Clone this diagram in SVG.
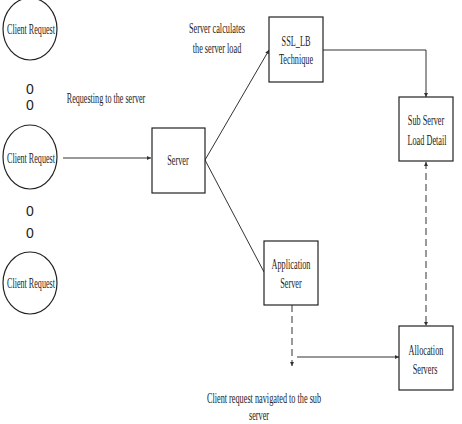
<svg xmlns="http://www.w3.org/2000/svg" width="462" height="424" viewBox="0 0 462 424">
<style>
.n{fill:#fff;stroke:#222;stroke-width:1.2}
.t{font-family:"Liberation Serif","Times New Roman",serif;font-size:15px;fill:#222;text-anchor:middle}
.z{font-family:"Liberation Sans",Arial,sans-serif;font-size:14px;fill:#222;text-anchor:middle}
.c{fill:none;stroke:#333;stroke-width:1}
.d{fill:none;stroke:#333;stroke-width:1;stroke-dasharray:7,4}
</style>
<defs>
<marker id="ah" viewBox="0 0 6 6" refX="6" refY="3" markerWidth="4" markerHeight="4" orient="auto-start-reverse" markerUnits="userSpaceOnUse">
<path d="M0,0 L6,3 L0,6 z" fill="#333"/>
</marker>
</defs>
<rect width="462" height="424" fill="#fff"/>
<g id="connectors">
<line class="c" x1="63" y1="158" x2="151" y2="158" marker-end="url(#ah)"/>
<line class="c" x1="205" y1="160" x2="269" y2="50" marker-end="url(#ah)"/>
<line class="c" x1="205" y1="160" x2="264" y2="272"/>
<polyline class="c" points="323,50 426,50 426,97" marker-end="url(#ah)"/>
<line class="d" x1="426" y1="162" x2="426" y2="326" marker-start="url(#ah)" marker-end="url(#ah)"/>
<line class="d" x1="292" y1="305" x2="292" y2="366" marker-end="url(#ah)"/>
<line class="c" x1="297" y1="357" x2="399" y2="357" marker-end="url(#ah)"/>
</g>
<g id="client1">
<ellipse class="n" cx="30" cy="29" rx="27" ry="31"/>
<text class="t" transform="translate(31 34) scale(0.54 1)">Client Request</text>
</g>
<g id="dots1">
<text class="z" x="30" y="94">0</text>
<text class="z" x="30" y="110">0</text>
</g>
<g id="client2">
<ellipse class="n" cx="30" cy="157" rx="27" ry="32"/>
<text class="t" transform="translate(31 163) scale(0.54 1)">Client Request</text>
</g>
<g id="dots2">
<text class="z" x="30" y="216">0</text>
<text class="z" x="30" y="238">0</text>
</g>
<g id="client3">
<ellipse class="n" cx="30" cy="283" rx="27" ry="31"/>
<text class="t" transform="translate(31 288) scale(0.54 1)">Client Request</text>
</g>
<g id="label-requesting">
<text class="t" transform="translate(106 103) scale(0.54 1)">Requesting to the server</text>
</g>
<g id="server">
<rect class="n" x="152" y="128" width="53" height="65"/>
<text class="t" transform="translate(178 165) scale(0.55 1)">Server</text>
</g>
<g id="label-calc">
<text class="t" transform="translate(217 33) scale(0.55 1)">Server calculates</text>
<text class="t" transform="translate(217 53) scale(0.55 1)">the server load</text>
</g>
<g id="ssl">
<rect class="n" x="269" y="17" width="54" height="65"/>
<text class="t" transform="translate(296 46) scale(0.55 1)">SSL_LB</text>
<text class="t" transform="translate(296 64) scale(0.55 1)">Technique</text>
</g>
<g id="subserver">
<rect class="n" x="399" y="97" width="54" height="64"/>
<text class="t" transform="translate(426 125) scale(0.55 1)">Sub Server</text>
<text class="t" transform="translate(427 145) scale(0.55 1)">Load Detail</text>
</g>
<g id="appserver">
<rect class="n" x="264" y="241" width="54" height="64"/>
<text class="t" transform="translate(291 269) scale(0.55 1)">Application</text>
<text class="t" transform="translate(291 288) scale(0.55 1)">Server</text>
</g>
<g id="allocation">
<rect class="n" x="399" y="326" width="54" height="64"/>
<text class="t" transform="translate(426 355) scale(0.55 1)">Allocation</text>
<text class="t" transform="translate(425 374) scale(0.55 1)">Servers</text>
</g>
<g id="label-navigated">
<text class="t" transform="translate(264 403) scale(0.55 1)">Client request navigated to the sub</text>
<text class="t" font-size="14" transform="translate(259 420) scale(0.55 1)">server</text>
</g>
</svg>
